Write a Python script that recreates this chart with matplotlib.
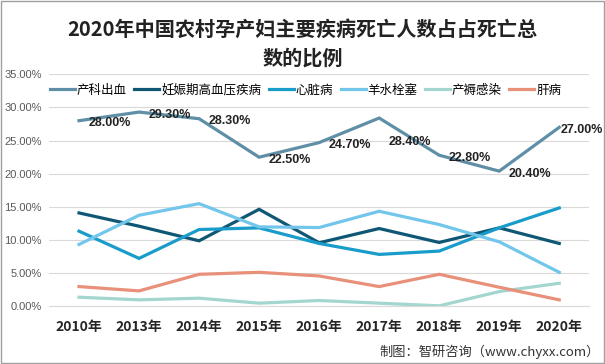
import matplotlib
matplotlib.use('Agg')
import matplotlib.pyplot as plt
import numpy as np

plt.rcParams['font.family'] = ['Noto Sans CJK SC', 'DejaVu Sans']

# 数据
years = ['2010年', '2013年', '2014年', '2015年', '2016年', '2017年', '2018年', '2019年', '2020年']
chanke = [28.0, 29.3, 28.3, 22.5, 24.7, 28.4, 22.8, 20.4, 27.0]
gaoxueya = [14.1, 12.1, 9.9, 14.65, 9.6, 11.75, 9.65, 11.85, 9.5]
xinzang = [11.35, 7.25, 11.6, 11.85, 9.5, 7.85, 8.35, 11.85, 14.85]
yangshui = [9.35, 13.75, 15.5, 12.0, 11.9, 14.35, 12.35, 9.75, 5.15]
chanru = [1.4, 1.0, 1.25, 0.5, 0.9, 0.5, 0.1, 2.25, 3.5]
ganbing = [3.0, 2.35, 4.85, 5.15, 4.6, 3.0, 4.85, 2.9, 1.0]

names = ['产科出血', '妊娠期高血压疾病', '心脏病', '羊水栓塞', '产褥感染', '肝病']
colors = ['#5F8FA6', '#0F5775', '#1A9CCB', '#73C6EB', '#A3D6CF', '#E8907A']
series = [chanke, gaoxueya, xinzang, yangshui, chanru, ganbing]

fig = plt.figure(figsize=(6.05, 3.64), dpi=100)
ax = fig.add_axes([0.081, 0.158, 0.893, 0.638])

x = np.arange(len(years))
for vals, name, c in zip(series, names, colors):
    ax.plot(x, vals, color=c, lw=2.3, label=name, solid_joinstyle='miter')

# 产科出血 数据标签
for i, v in enumerate(chanke):
    dy = -17 if i == 5 else -2
    dx = 1 if i == len(chanke) - 1 else 7
    ax.annotate('%.2f%%' % v, (x[i], v), xytext=(dx, dy), textcoords='offset points',
                ha='left', va='center', fontsize=9, color='#222222', fontweight='bold',
                family='Liberation Sans')

ax.set_xlim(-0.5, len(years) - 0.5)
ax.set_ylim(0, 35)
ax.set_yticks(np.arange(0, 36, 5))
ax.set_yticklabels(['%.2f%%' % t for t in np.arange(0, 36, 5)], fontsize=8, color='#595959',
                   family='Liberation Sans')
ax.set_xticks(x)
ax.set_xticklabels(years, fontsize=10, fontweight='bold', color='#262626')
ax.tick_params(length=0)
ax.tick_params(axis='x', pad=10)
ax.tick_params(axis='y', pad=5)
ax.grid(axis='y', color='#d9d9d9', lw=0.8)
ax.set_axisbelow(True)
for s in ['top', 'right', 'left']:
    ax.spines[s].set_visible(False)
ax.spines['bottom'].set_color('#d9d9d9')

fig.text(0.5, 0.92, '2020年中国农村孕产妇主要疾病死亡人数占占死亡总', ha='center', va='center',
         fontsize=14.5, fontweight='bold', color='#222222')
fig.text(0.5, 0.84, '数的比例', ha='center', va='center',
         fontsize=14.5, fontweight='bold', color='#222222')

ax.legend(loc='center', bbox_to_anchor=(0.475, 0.932), ncol=6, frameon=False, fontsize=9,
          handlelength=2.0, columnspacing=0.6, handletextpad=0.15, borderaxespad=0)

fig.text(0.992, 0.033, '制图：智研咨询（www.chyxx.com）', ha='right', va='center',
         fontsize=9.5, color='#333333')

# 外框
fig.patches.append(plt.Rectangle((0.001, 0.002), 0.997, 0.995, transform=fig.transFigure,
                                 fill=False, edgecolor='#a0a0a0', lw=1))

fig.savefig('out.png', dpi=100)
